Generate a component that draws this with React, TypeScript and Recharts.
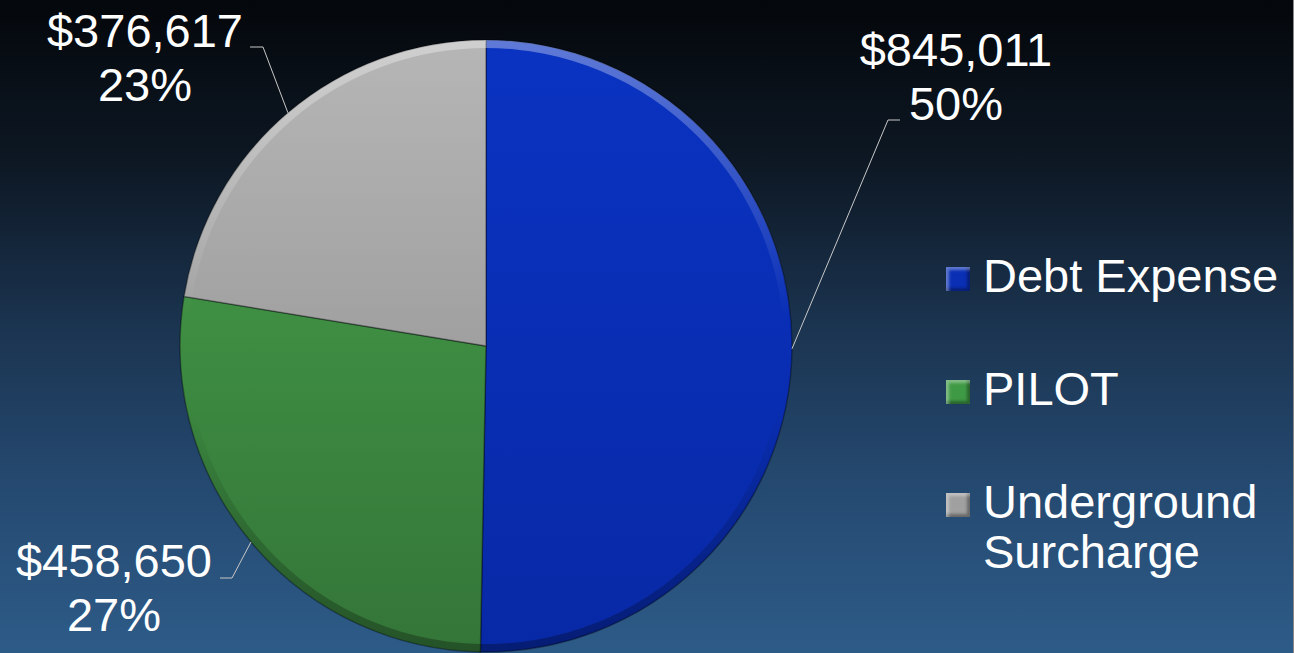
import { PieChart, Pie, Cell, Legend } from 'recharts';

const categories = ['Debt Expense', 'PILOT', 'Underground Surcharge'];
const amounts = [845011, 458650, 376617];
const percentLabels = ['50%', '27%', '23%'];

const data = categories.map((name, i) => ({ name, value: amounts[i] }));

const FONT = '"Liberation Sans", Arial, sans-serif';
const RADIAN = Math.PI / 180;

// slice gradient stops (top, bottom)
const sliceColors = [
  ['#0a33c2', '#0829a6'],
  ['#46a24b', '#347538'],
  ['#b6b6b6', '#8a8a8a'],
];
const swatchColors = ['#0a2fb5', '#3f9a45', '#a0a0a0'];

// hand placed label callouts, like the original slide
const labelLayout = [
  { elbow: [888, 120], tail: [900, 120], text: [956, 66] },
  { elbow: [232, 578], tail: [220, 578], text: [114, 577] },
  { elbow: [263, 47], tail: [250, 47], text: [145, 47] },
];

const money = (v: number) => '$' + v.toLocaleString('en-US');

const renderLabel = (props: any) => {
  const { cx, cy, midAngle, outerRadius, index } = props;
  const ex = cx + outerRadius * Math.cos(-midAngle * RADIAN);
  const ey = cy + outerRadius * Math.sin(-midAngle * RADIAN);
  const lay = labelLayout[index];
  return (
    <g key={`lbl-${index}`}>
      <polyline
        points={`${ex},${ey} ${lay.elbow[0]},${lay.elbow[1]} ${lay.tail[0]},${lay.tail[1]}`}
        fill="none"
        stroke="#c8c8c8"
        strokeWidth={1}
      />
      <text x={lay.text[0]} y={lay.text[1]} textAnchor="middle" fill="#ffffff" fontSize={47} fontFamily={FONT}>
        {money(amounts[index])}
      </text>
      <text x={lay.text[0]} y={lay.text[1] + 54} textAnchor="middle" fill="#ffffff" fontSize={47} fontFamily={FONT}>
        {percentLabels[index]}
      </text>
    </g>
  );
};

const LegendBox = (props: any) => {
  const payload = (props.payload || []).filter((p: any) => p.type !== 'none');
  return (
    <div style={{ display: 'flex', flexDirection: 'column', gap: 63, fontFamily: FONT, fontSize: 47, lineHeight: '50px', color: '#fff' }}>
      {payload.map((p: any, i: number) => (
        <div key={i} style={{ display: 'flex', alignItems: 'flex-start' }}>
          <span
            style={{
              width: 24,
              height: 24,
              marginTop: 16,
              marginRight: 13,
              flex: 'none',
              background: swatchColors[i],
              boxShadow: 'inset 3px 3px 3px rgba(255,255,255,0.35), inset -3px -3px 3px rgba(0,0,0,0.35)',
            }}
          />
          <span style={{ width: 310 }}>{p.value}</span>
        </div>
      ))}
    </div>
  );
};

export default function App() {
  return (
    <div
      style={{
        position: 'absolute',
        left: 0,
        top: 0,
        width: 1294,
        height: 653,
        overflow: 'hidden',
        background: 'linear-gradient(to bottom, #04070b 0%, #0d1824 25%, #1b3450 50%, #254a71 75%, #2d5b88 100%)',
        boxShadow: 'inset -1px 0 0 #8a8a8a',
      }}
    >
      <PieChart width={1294} height={653} margin={{ top: 0, right: 0, bottom: 0, left: 0 }}>
        <defs>
          {sliceColors.map((c, i) => (
            <linearGradient key={i} id={`slice-${i}`} gradientUnits="userSpaceOnUse" x1="0" y1="40" x2="0" y2="652">
              <stop offset="0%" stopColor={c[0]} />
              <stop offset="100%" stopColor={c[1]} />
            </linearGradient>
          ))}
          <linearGradient id="rim" gradientUnits="userSpaceOnUse" x1="0" y1="40" x2="0" y2="652">
            <stop offset="0%" stopColor="#ffffff" stopOpacity={0.35} />
            <stop offset="45%" stopColor="#ffffff" stopOpacity={0} />
            <stop offset="60%" stopColor="#000000" stopOpacity={0} />
            <stop offset="100%" stopColor="#000000" stopOpacity={0.3} />
          </linearGradient>
        </defs>
        <Pie
          data={data}
          dataKey="value"
          nameKey="name"
          cx={486}
          cy={346}
          outerRadius={306}
          startAngle={90}
          endAngle={-270}
          label={renderLabel}
          labelLine={false}
          isAnimationActive={false}
        >
          {data.map((_, i) => (
            <Cell key={`cell-${i}`} fill={`url(#slice-${i})`} stroke="rgba(0,0,0,0.35)" strokeWidth={1.5} />
          ))}
        </Pie>
        <Pie
          data={data}
          dataKey="value"
          nameKey="name"
          cx={486}
          cy={346}
          innerRadius={298}
          outerRadius={306}
          startAngle={90}
          endAngle={-270}
          legendType="none"
          stroke="none"
          fill="url(#rim)"
          isAnimationActive={false}
        />
        <Legend
          content={<LegendBox />}
          wrapperStyle={{ position: 'absolute', left: 946, top: 251, width: 348 }}
        />
      </PieChart>
    </div>
  );
}
